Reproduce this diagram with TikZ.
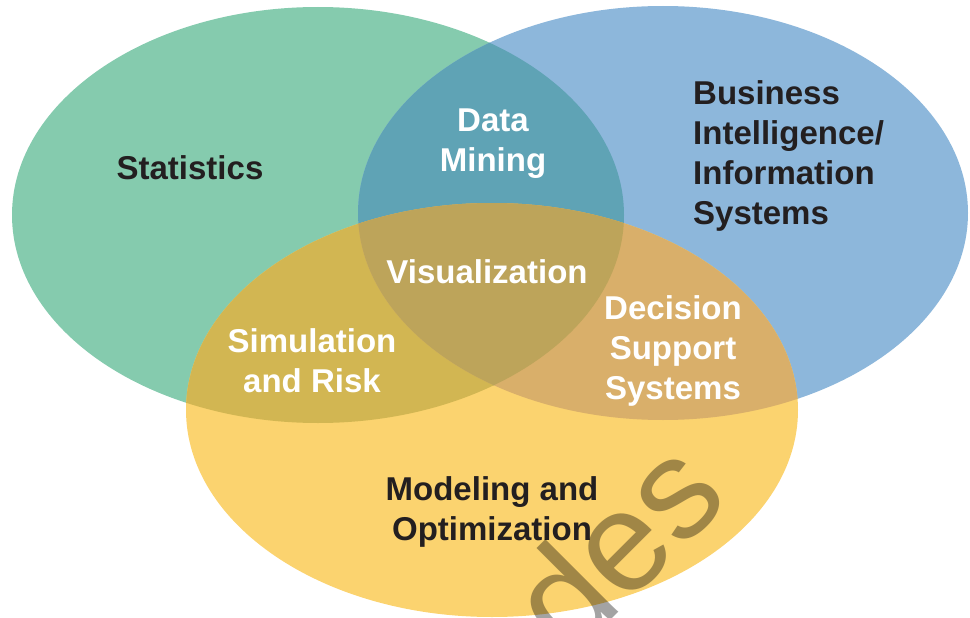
\documentclass[tikz,border=0pt]{standalone}
\usepackage{fontspec}
\setmainfont{Liberation Sans}
\definecolor{cgreen}{HTML}{85CBAE}
\definecolor{cblue}{HTML}{8DB7DB}
\definecolor{cyellow}{HTML}{FBD36F}
\definecolor{cteal}{HTML}{5FA3B5}
\definecolor{cgy}{HTML}{D2B652}
\definecolor{cby}{HTML}{D9AF6A}
\definecolor{cmid}{HTML}{BDA45A}
\definecolor{cink}{HTML}{231F20}
\definecolor{cwm}{HTML}{A3A3A3}
\tikzset{
  lbl/.style={font=\fontsize{33}{40}\selectfont\bfseries, inner sep=0pt, align=center},
  darklbl/.style={lbl, text=cink},
  lightlbl/.style={lbl, text=white},
  wmark/.style={font=\fontsize{142}{142}\selectfont, text=cwm, inner sep=0pt, rotate=45, blend mode=multiply}
}
\begin{document}
\begin{tikzpicture}[x=1pt,y=-1pt]
\useasboundingbox (0,0) rectangle (970,618);
\def\ellG{(318,215) ellipse [x radius=306, y radius=208]}
\def\ellB{(663,213) ellipse [x radius=305, y radius=207]}
\def\ellY{(492,410) ellipse [x radius=306, y radius=207]}
\fill[cgreen] \ellG;
\fill[cblue] \ellB;
\fill[cyellow] \ellY;
\begin{scope}
  \clip \ellG;
  \fill[cteal] \ellB;
  \fill[cgy] \ellY;
\end{scope}
\begin{scope}
  \clip \ellB;
  \fill[cby] \ellY;
  \clip \ellG;
  \fill[cmid] \ellY;
\end{scope}
\node[darklbl] (stat) at (190,168) {Statistics};
\node[darklbl, align=left, anchor=west] (bi) at (693,156) {Business\\Intelligence/\\Information\\Systems};
\node[lightlbl] (dm) at (493,144) {Data\\Mining};
\node[lightlbl] (vis) at (487,272) {Visualization};
\node[lightlbl] (sim) at (312,361) {Simulation\\and Risk};
\node[lightlbl] (dss) at (673,351) {Decision\\Support\\Systems};
\node[darklbl] (mo) at (492,512) {Modeling and\\Optimization};
\node[wmark] (wm) at (615,545) {des};
\end{tikzpicture}
\end{document}
